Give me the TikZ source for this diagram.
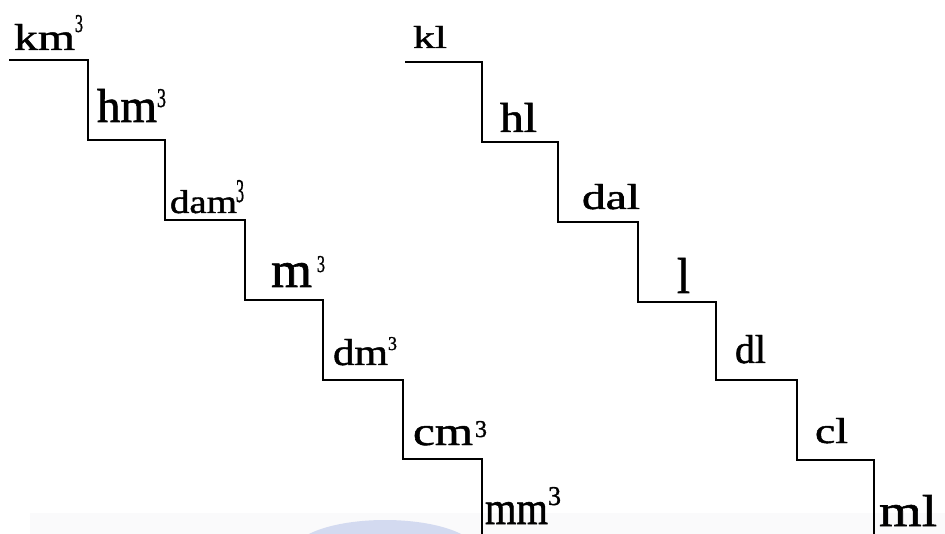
\documentclass[tikz,border=0pt]{standalone}
\usepackage{graphicx}
\usepackage{fontspec}
\setmainfont{Liberation Serif}
\newfontface\heavyserif{Liberation Serif}[FakeBold=1.2]
\definecolor{wmblue}{HTML}{D3DAF0}
\definecolor{wmgray}{HTML}{FAFAFB}
% \ulab{w}{h}{text}{gap}{w3}{h3}{raise}
\newcommand\ulab[7]{\resizebox{#1pt}{#2pt}{#3}\hspace{#4pt}\raisebox{#7pt}{\resizebox{#5pt}{#6pt}{3}}}
\newcommand\plab[3]{\resizebox{#1pt}{#2pt}{#3}}
\tikzset{
  stair/.style={draw=black, line width=1.8pt, line join=miter},
  unitlabel/.style={anchor=base west, inner sep=0pt, outer sep=0pt, font=\heavyserif}
}
\begin{document}
\begin{tikzpicture}[x=1pt,y=-1pt]
\useasboundingbox (0,0) rectangle (945,534);
\clip (0,0) rectangle (945,534);
% faint watermark at the bottom
\fill[wmgray] (30,513) rectangle (945,534);
\fill[wmblue] (385,552) ellipse [x radius=92, y radius=32];
% left staircase (cubic units)
\draw[stair] (9,60) -- (88,60) -- (88,140) -- (165,140) -- (165,220) -- (245,220)
  -- (245,300) -- (323,300) -- (323,380) -- (403,380) -- (403,459) -- (482,459) -- (482,540);
% right staircase (litres)
\draw[stair] (405,62) -- (482,62) -- (482,142) -- (558,142) -- (558,222) -- (638,222)
  -- (638,302) -- (716,302) -- (716,380) -- (797,380) -- (797,460) -- (874,460) -- (874,540);
% left labels
\node[unitlabel] (km) at (14,50)  {\ulab{61}{26}{km}{0}{8}{17}{18}};
\node[unitlabel] (hm) at (97,122) {\ulab{60}{33}{hm}{0}{9}{18}{15}};
\node[unitlabel] (dam) at (170,213) {\ulab{67}{23}{dam}{-1}{8}{22}{11}};
\node[unitlabel] (m) at (271,287) {\ulab{41}{24}{m}{5}{8}{16}{15}};
\node[unitlabel] (dm) at (333,365) {\ulab{55}{26}{dm}{0}{9}{13}{15}};
\node[unitlabel] (cm) at (413,445) {\ulab{60}{19}{cm}{2}{12}{16}{8}};
\node[unitlabel] (mm) at (485,524) {\ulab{63}{22}{mm}{0}{13}{18}{19}};
% right labels
\node[unitlabel] (kl) at (413,48)  {\plab{34}{22}{kl}};
\node[unitlabel] (hl) at (500,132) {\plab{37}{29}{hl}};
\node[unitlabel] (dal) at (582,209) {\plab{58}{25}{dal}};
\node[unitlabel] (l) at (677,293) {\plab{13}{35}{l}};
\node[unitlabel] (dl) at (735,363) {\plab{31}{28}{dl}};
\node[unitlabel] (cl) at (815,443) {\plab{33}{25}{cl}};
\node[unitlabel] (ml) at (879,526) {\plab{58}{31}{ml}};
\end{tikzpicture}
\end{document}
